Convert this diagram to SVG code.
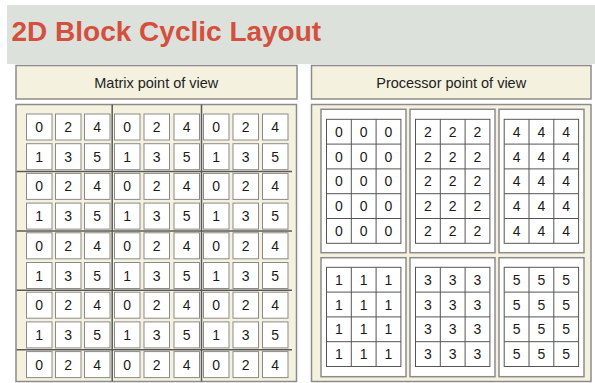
<svg xmlns="http://www.w3.org/2000/svg" xmlns:xlink="http://www.w3.org/1999/xlink" width="595" height="383" viewBox="0 0 595 383">
<defs>
<style>
.title{font-family:"Liberation Sans",Arial,sans-serif;font-weight:bold;font-size:28px;fill:#d4503e}
.hdr{fill:#f5f1df;stroke:#8c8c8c;stroke-width:1.5}
.htxt{font-family:"Liberation Sans",Arial,sans-serif;font-size:14.5px;fill:#222;text-anchor:middle}
.panel{fill:#f5f1df;stroke:#8c8c8c;stroke-width:1.5}
.cell{fill:#fff;stroke:#8a8a8a;stroke-width:1}
.sep{stroke:#5a5a5a;stroke-width:1.5;fill:none}
.d{font-family:"Liberation Sans",Arial,sans-serif;font-size:14px;fill:#1a1a1a;text-anchor:middle}
.blk{fill:#fff;stroke:#8c8c8c;stroke-width:1.5}
.tbl{fill:#fff;stroke:#555;stroke-width:1}
.gl{stroke:#555;stroke-width:1;fill:none}
</style>
<g id="lrow">
<rect class="cell" x="26.5" y="0" width="25.5" height="26"/>
<rect class="cell" x="55.5" y="0" width="25.5" height="26"/>
<rect class="cell" x="84.5" y="0" width="25.5" height="26"/>
<rect class="cell" x="114.5" y="0" width="25.5" height="26"/>
<rect class="cell" x="144" y="0" width="25.5" height="26"/>
<rect class="cell" x="174" y="0" width="25.5" height="26"/>
<rect class="cell" x="203.5" y="0" width="25.5" height="26"/>
<rect class="cell" x="233" y="0" width="25.5" height="26"/>
<rect class="cell" x="262.5" y="0" width="25.5" height="26"/>
</g>
<g id="gtop">
<rect class="tbl" x="0" y="0" width="74.4" height="124"/>
<path class="gl" d="M24.8 0V124M49.6 0V124M0 24.8H74.4M0 49.6H74.4M0 74.4H74.4M0 99.2H74.4"/>
</g>
<g id="gbot">
<rect class="tbl" x="0" y="0" width="74.4" height="99.2"/>
<path class="gl" d="M24.8 0V99.2M49.6 0V99.2M0 24.8H74.4M0 49.6H74.4M0 74.4H74.4"/>
</g>
</defs>
<rect width="595" height="383" fill="#fff"/>
<g id="title">
<rect x="7" y="5" width="588" height="59" fill="#dde1dc"/>
<text class="title" x="11.5" y="40.5">2D Block Cyclic Layout</text>
</g>
<g id="header-matrix">
<rect class="hdr" x="16" y="65.5" width="281" height="33.5"/>
<text class="htxt" x="156.3" y="87.5">Matrix point of view</text>
</g>
<g id="header-processor">
<rect class="hdr" x="311.5" y="65.5" width="279.5" height="33.5"/>
<text class="htxt" x="451.2" y="87.5">Processor point of view</text>
</g>
<g id="matrix-view">
<rect class="panel" x="16" y="104.5" width="280.5" height="277"/>
<use xlink:href="#lrow" y="114"/>
<use xlink:href="#lrow" y="143.7"/>
<use xlink:href="#lrow" y="173.4"/>
<use xlink:href="#lrow" y="203.1"/>
<use xlink:href="#lrow" y="232.8"/>
<use xlink:href="#lrow" y="262.5"/>
<use xlink:href="#lrow" y="292.2"/>
<use xlink:href="#lrow" y="321.9"/>
<use xlink:href="#lrow" y="351.6"/>
<path class="sep" d="M112.2 104.5V381.5M201.5 104.5V381.5M16.5 171.5H292M16.5 231H292M16.5 290.3H292M16.5 349.7H292"/>
<g class="d">
<text x="39.25 68.25 97.25 127.25 156.75 186.75 216.25 245.75 275.25" y="132">024024024</text>
<text x="39.25 68.25 97.25 127.25 156.75 186.75 216.25 245.75 275.25" y="161.7">135135135</text>
<text x="39.25 68.25 97.25 127.25 156.75 186.75 216.25 245.75 275.25" y="191.4">024024024</text>
<text x="39.25 68.25 97.25 127.25 156.75 186.75 216.25 245.75 275.25" y="221.1">135135135</text>
<text x="39.25 68.25 97.25 127.25 156.75 186.75 216.25 245.75 275.25" y="250.8">024024024</text>
<text x="39.25 68.25 97.25 127.25 156.75 186.75 216.25 245.75 275.25" y="280.5">135135135</text>
<text x="39.25 68.25 97.25 127.25 156.75 186.75 216.25 245.75 275.25" y="310.2">024024024</text>
<text x="39.25 68.25 97.25 127.25 156.75 186.75 216.25 245.75 275.25" y="339.9">135135135</text>
<text x="39.25 68.25 97.25 127.25 156.75 186.75 216.25 245.75 275.25" y="369.6">024024024</text>
</g>
</g>
<g id="processor-view">
<rect class="panel" x="311.5" y="104.5" width="279.5" height="277"/>
</g>
<g id="proc-0">
<rect class="blk" x="321" y="109.3" width="85" height="143.4"/>
<use xlink:href="#gtop" x="326.5" y="119.3"/>
<g class="d">
<text x="338.9 363.7 388.5" y="136.7">000</text>
<text x="338.9 363.7 388.5" y="161.5">000</text>
<text x="338.9 363.7 388.5" y="186.3">000</text>
<text x="338.9 363.7 388.5" y="211.1">000</text>
<text x="338.9 363.7 388.5" y="235.9">000</text>
</g>
</g>
<g id="proc-2">
<rect class="blk" x="410" y="109.3" width="85" height="143.4"/>
<use xlink:href="#gtop" x="415.5" y="119.3"/>
<g class="d">
<text x="427.9 452.7 477.5" y="136.7">222</text>
<text x="427.9 452.7 477.5" y="161.5">222</text>
<text x="427.9 452.7 477.5" y="186.3">222</text>
<text x="427.9 452.7 477.5" y="211.1">222</text>
<text x="427.9 452.7 477.5" y="235.9">222</text>
</g>
</g>
<g id="proc-4">
<rect class="blk" x="499" y="109.3" width="85" height="143.4"/>
<use xlink:href="#gtop" x="504.2" y="119.3"/>
<g class="d">
<text x="516.6 541.4 566.2" y="136.7">444</text>
<text x="516.6 541.4 566.2" y="161.5">444</text>
<text x="516.6 541.4 566.2" y="186.3">444</text>
<text x="516.6 541.4 566.2" y="211.1">444</text>
<text x="516.6 541.4 566.2" y="235.9">444</text>
</g>
</g>
<g id="proc-1">
<rect class="blk" x="321" y="257.7" width="85" height="119"/>
<use xlink:href="#gbot" x="326.5" y="267.3"/>
<g class="d">
<text x="338.9 363.7 388.5" y="284.7">111</text>
<text x="338.9 363.7 388.5" y="309.5">111</text>
<text x="338.9 363.7 388.5" y="334.3">111</text>
<text x="338.9 363.7 388.5" y="359.1">111</text>
</g>
</g>
<g id="proc-3">
<rect class="blk" x="410" y="257.7" width="85" height="119"/>
<use xlink:href="#gbot" x="415.5" y="267.3"/>
<g class="d">
<text x="427.9 452.7 477.5" y="284.7">333</text>
<text x="427.9 452.7 477.5" y="309.5">333</text>
<text x="427.9 452.7 477.5" y="334.3">333</text>
<text x="427.9 452.7 477.5" y="359.1">333</text>
</g>
</g>
<g id="proc-5">
<rect class="blk" x="499" y="257.7" width="85" height="119"/>
<use xlink:href="#gbot" x="504.2" y="267.3"/>
<g class="d">
<text x="516.6 541.4 566.2" y="284.7">555</text>
<text x="516.6 541.4 566.2" y="309.5">555</text>
<text x="516.6 541.4 566.2" y="334.3">555</text>
<text x="516.6 541.4 566.2" y="359.1">555</text>
</g>
</g>
<g id="connectors"/>
</svg>
